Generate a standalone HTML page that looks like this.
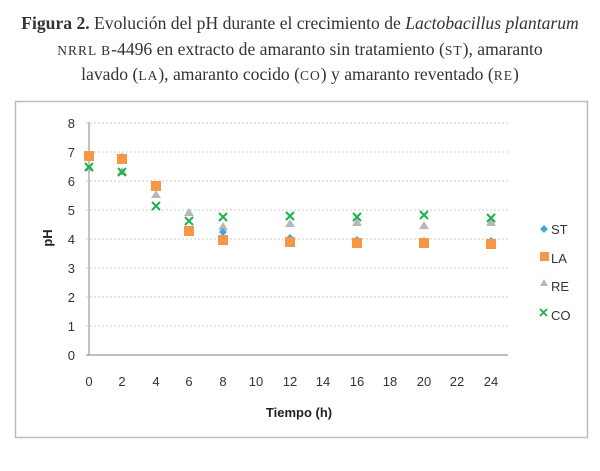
<!DOCTYPE html>
<html><head><meta charset="utf-8"><style>
body{margin:0;background:#fff;width:600px;height:471px;overflow:hidden}
.t{position:absolute;left:0;width:600px;text-align:center;font-family:"Liberation Serif",serif;font-size:17.6px;color:#333}
.sc{font-size:13.5px;letter-spacing:1px}
</style></head><body>
<div class="t" style="top:13px"><b>Figura 2.</b> Evolución del pH durante el crecimiento de <i>Lactobacillus plantarum</i></div>
<div class="t" style="top:39px"><span class="sc">NRRL B</span>-4496 en extracto de amaranto sin tratamiento (<span class="sc">ST</span>), amaranto</div>
<div class="t" style="top:64px">lavado (<span class="sc">LA</span>), amaranto cocido (<span class="sc">CO</span>) y amaranto reventado (<span class="sc">RE</span>)</div>
<svg width="600" height="471" style="position:absolute;left:0;top:0" font-family="Liberation Sans,sans-serif">
<rect x="15.5" y="101.5" width="572" height="336" fill="none" stroke="#bbb" stroke-width="1.5"/>
<g stroke="#ccc" stroke-dasharray="2,2">
<line x1="86" x2="508" y1="123" y2="123"/><line x1="86" x2="508" y1="152" y2="152"/><line x1="86" x2="508" y1="181" y2="181"/><line x1="86" x2="508" y1="210" y2="210"/><line x1="86" x2="508" y1="239" y2="239"/><line x1="86" x2="508" y1="268" y2="268"/><line x1="86" x2="508" y1="297" y2="297"/><line x1="86" x2="508" y1="326" y2="326"/>
</g>
<g stroke="#999" stroke-width="1.2"><line x1="89" y1="122" x2="89" y2="355"/><line x1="86" y1="355" x2="508" y2="355"/></g>
<g font-size="13" fill="#333" text-anchor="end">
<text x="75" y="128">8</text><text x="75" y="157">7</text><text x="75" y="186">6</text><text x="75" y="215">5</text><text x="75" y="244">4</text><text x="75" y="273">3</text><text x="75" y="302">2</text><text x="75" y="331">1</text><text x="75" y="360">0</text>
</g>
<g font-size="13" fill="#333" text-anchor="middle">
<text x="89" y="386">0</text><text x="122" y="386">2</text><text x="156" y="386">4</text><text x="189" y="386">6</text><text x="223" y="386">8</text><text x="256" y="386">10</text><text x="290" y="386">12</text><text x="323" y="386">14</text><text x="357" y="386">16</text><text x="390" y="386">18</text><text x="424" y="386">20</text><text x="457" y="386">22</text><text x="491" y="386">24</text>
</g>
<text x="299" y="417" font-size="13" font-weight="bold" text-anchor="middle" fill="#222">Tiempo (h)</text>
<text transform="translate(52,238) rotate(-90)" font-size="13" font-weight="bold" text-anchor="middle" fill="#222">pH</text>
<g fill="#b8b8b8">
<path d="M89,163 l5,8 h-10z"/><path d="M122,167 l5,8 h-10z"/>
<path d="M156,190 l5,8 h-10z"/><path d="M189,208 l5,8 h-10z"/><path d="M223,222 l5,8 h-10z"/><path d="M290,219 l5,8 h-10z"/><path d="M357,218 l5,8 h-10z"/><path d="M424,221 l5,8 h-10z"/><path d="M491,218 l5,8 h-10z"/>
</g>
<g fill="#3da9e0">
<path d="M122,153 l4,4 -4,4 -4,-4z"/><path d="M156,181 l4,4 -4,4 -4,-4z"/><path d="M189,228 l4,4 -4,4 -4,-4z"/><path d="M223,228 l4,4 -4,4 -4,-4z"/><path d="M290,234 l4,4 -4,4 -4,-4z"/><path d="M357,236 l4,4 -4,4 -4,-4z"/><path d="M424,237 l4,4 -4,4 -4,-4z"/><path d="M491,237 l4,4 -4,4 -4,-4z"/>
</g>
<g fill="#f79646">
<rect x="84" y="151" width="10" height="10"/><rect x="117" y="154" width="10" height="10"/><rect x="151" y="181" width="10" height="10"/><rect x="184" y="226" width="10" height="10"/><rect x="218" y="235" width="10" height="10"/><rect x="285" y="237" width="10" height="10"/><rect x="352" y="238" width="10" height="10"/><rect x="419" y="238" width="10" height="10"/><rect x="486" y="239" width="10" height="10"/>
</g>
<g stroke="#19b34a" stroke-width="2">
<path d="M85,163 l8,8 M93,163 l-8,8"/><path d="M118,168 l8,8 M126,168 l-8,8"/><path d="M152,202 l8,8 M160,202 l-8,8"/><path d="M185,217 l8,8 M193,217 l-8,8"/><path d="M219,213 l8,8 M227,213 l-8,8"/><path d="M286,212 l8,8 M294,212 l-8,8"/><path d="M353,213 l8,8 M361,213 l-8,8"/><path d="M420,211 l8,8 M428,211 l-8,8"/><path d="M487,214 l8,8 M495,214 l-8,8"/>
</g>
<g font-size="13" fill="#333">
<path d="M544,225 l4,4 -4,4 -4,-4z" fill="#3da9e0"/><text x="551" y="234">ST</text>
<rect x="540" y="252" width="9" height="9" fill="#f79646"/><text x="551" y="263">LA</text>
<path d="M544,279 l4,7 h-8z" fill="#b8b8b8"/><text x="551" y="291">RE</text>
<path d="M540,309 l7,7 M547,309 l-7,7" stroke="#19b34a" stroke-width="1.8"/><text x="551" y="320">CO</text>
</g>
</svg>
</body></html>
